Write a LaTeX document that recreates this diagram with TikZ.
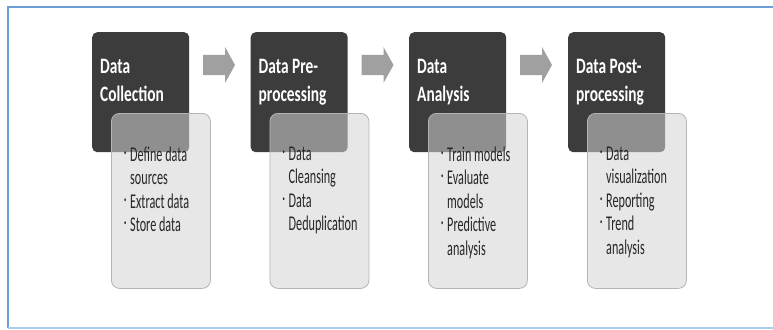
\documentclass[tikz,border=0pt]{standalone}
\usepackage{fontspec}
\setmainfont{Carlito}
\newfontfamily\titlefont{Carlito}[FakeStretch=0.7]
\newfontfamily\listfont{Carlito}[FakeStretch=0.58]
\definecolor{darkc}{HTML}{3C3C3C}
\definecolor{lightc}{HTML}{D4D4D4}
\definecolor{lborder}{HTML}{B4B4B4}
\definecolor{arrowc}{HTML}{A0A0A0}
\definecolor{frametop}{HTML}{6C9FD6}
\definecolor{framebot}{HTML}{A9CDEE}
\definecolor{listtextc}{HTML}{262626}
\newcommand\bitem{\makebox[6pt][l]{\raisebox{6pt}{\fontsize{8}{8}\selectfont\textbullet}}}
\newcommand\bcont{\hspace*{6pt}}
\tikzset{
  darkbox/.style={rectangle, rounded corners=5pt, fill=darkc, minimum width=97pt, minimum height=120pt, inner sep=0pt, anchor=north west},
  lightbox/.style={rectangle, rounded corners=8pt, fill=lightc, fill opacity=0.55, draw=lborder, line width=0.8pt, minimum width=99pt, minimum height=175pt, inner sep=0pt, anchor=north west},
  titletext/.style={text=white, font=\titlefont\bfseries\fontsize{22}{28}\selectfont, align=left, inner sep=0pt, anchor=north west},
  listtext/.style={text=listtextc, font=\listfont\fontsize{21}{23.5}\selectfont, align=left, inner sep=0pt, anchor=north west},
  blockarrow/.style={fill=arrowc}
}
\begin{document}
\begin{tikzpicture}[x=1pt,y=-1pt]
\useasboundingbox (0,0) rectangle (773,329);
\fill[white] (0,0) rectangle (773,329);
\draw[frametop, line width=1.6pt] (775,7) -- (8,7) -- (8,328);
\draw[framebot, line width=1.6pt] (8,328) -- (775,328);

% dark title boxes
\node[darkbox] (d1) at (92,32) {};
\node[darkbox] (d2) at (250.5,32) {};
\node[darkbox] (d3) at (409,32) {};
\node[darkbox] (d4) at (568,32) {};

% light detail boxes
\node[lightbox] (l1) at (111,113) {};
\node[lightbox] (l2) at (269.5,113) {};
\node[lightbox] (l3) at (428,113) {};
\node[lightbox] (l4) at (587,113) {};

% titles
\node[titletext] (t1) at (100,59.5) {Data\\Collection};
\node[titletext] (t2) at (258.5,59.5) {Data Pre-\\processing};
\node[titletext] (t3) at (417,59.5) {Data\\Analysis};
\node[titletext] (t4) at (576,59.5) {Data Post-\\processing};

% lists
\node[listtext] (b1) at (124,146.5) {\bitem Define data\\\bcont sources\\\bitem Extract data\\\bitem Store data};
\node[listtext] (b2) at (282.5,146.5) {\bitem Data\\\bcont Cleansing\\\bitem Data\\\bcont Deduplication};
\node[listtext] (b3) at (441,146.5) {\bitem Train models\\\bitem Evaluate\\\bcont models\\\bitem Predictive\\\bcont analysis};
\node[listtext] (b4) at (600,146.5) {\bitem Data\\\bcont visualization\\\bitem Reporting\\\bitem Trend\\\bcont analysis};

% block arrows
\foreach \x in {203,361.5,520} {
  \fill[blockarrow] (\x,55) -- (\x+22,55) -- (\x+22,47) -- (\x+32,65) -- (\x+22,83) -- (\x+22,75) -- (\x,75) -- cycle;
}
\end{tikzpicture}
\end{document}
